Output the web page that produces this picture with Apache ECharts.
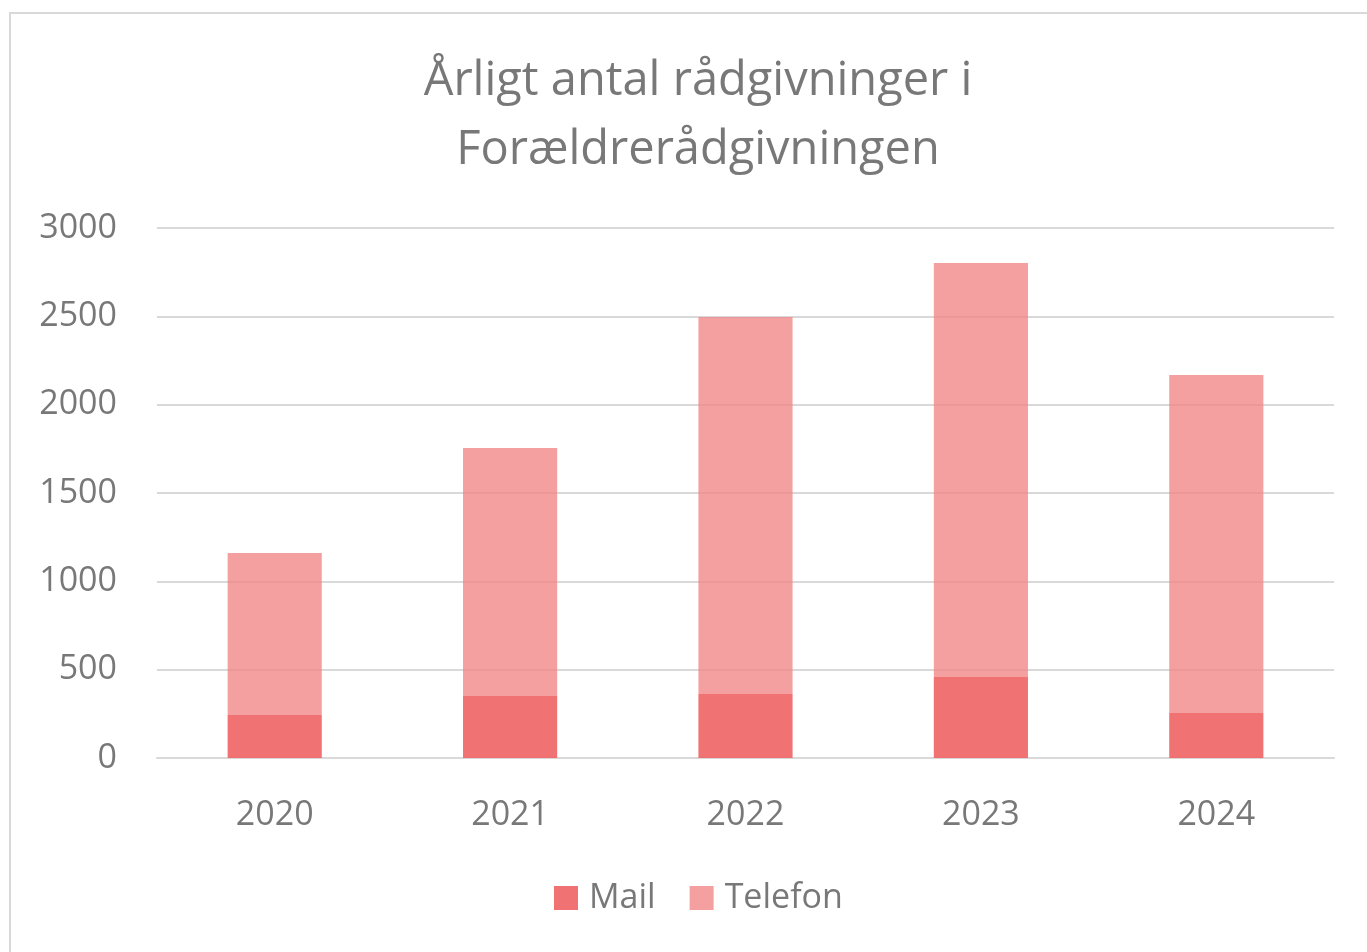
<!DOCTYPE html>
<html>
<head>
<meta charset="utf-8">
<script src="https://cdn.jsdelivr.net/npm/echarts@6/dist/echarts.min.js"></script>
<style>
html, body { margin: 0; padding: 0; background: #fff; overflow: hidden; }
#frame {
    position: absolute;
    left: 9px;
    top: 12px;
    width: 1400px;
    height: 1000px;
    border: 2px solid #d9d9d9;
    box-sizing: border-box;
}
#chart { position: absolute; left: 0; top: 0; width: 1367px; height: 952px; }
</style>
</head>
<body>
<div id="frame"></div>
<div id="chart"></div>
<script>
const years = ['2020', '2021', '2022', '2023', '2024'];
const mail = [243, 351, 362, 458, 255];
const telefon = [917, 1404, 2134, 2344, 1913];

const textColor = '#787878';
const fontFamily = '"Open Sans", sans-serif';

const chart = echarts.init(document.getElementById('chart'));
chart.setOption({
    animation: false,
    title: {
        text: 'Årligt antal rådgivninger i\nForældrerådgivningen',
        left: 693,
        textAlign: 'center',
        top: 42,
        textStyle: {
            color: textColor,
            fontFamily: fontFamily,
            fontWeight: 'normal',
            fontSize: 47,
            lineHeight: 69,
        },
    },
    legend: {
        bottom: 32,
        left: 549,
        itemWidth: 24,
        itemHeight: 24,
        itemGap: 34,
        icon: 'rect',
        textStyle: {
            color: textColor,
            fontFamily: fontFamily,
            fontSize: 34,
            padding: [0, 0, 0, 6],
        },
    },
    grid: {
        left: 157,
        right: 33,
        top: 228,
        bottom: 194,
    },
    xAxis: {
        type: 'category',
        data: years,
        axisLine: { lineStyle: { color: '#d9d9d9', width: 2 } },
        axisTick: { show: false },
        axisLabel: {
            color: textColor,
            fontFamily: fontFamily,
            fontSize: 34,
            margin: 40,
        },
    },
    yAxis: {
        type: 'value',
        min: 0,
        max: 3000,
        interval: 500,
        splitLine: { lineStyle: { color: '#d9d9d9', width: 2 } },
        axisLabel: {
            color: textColor,
            fontFamily: fontFamily,
            fontSize: 34,
            margin: 40,
            formatter: (v) => String(v),
        },
    },
    series: [
        {
            name: 'Mail',
            type: 'bar',
            stack: 'total',
            data: mail,
            barWidth: '40%',
            itemStyle: { color: '#ee5e5e', opacity: 0.88 },
        },
        {
            name: 'Telefon',
            type: 'bar',
            stack: 'total',
            data: telefon,
            itemStyle: { color: '#f28585', opacity: 0.78 },
        },
    ],
});
</script>
</body>
</html>
